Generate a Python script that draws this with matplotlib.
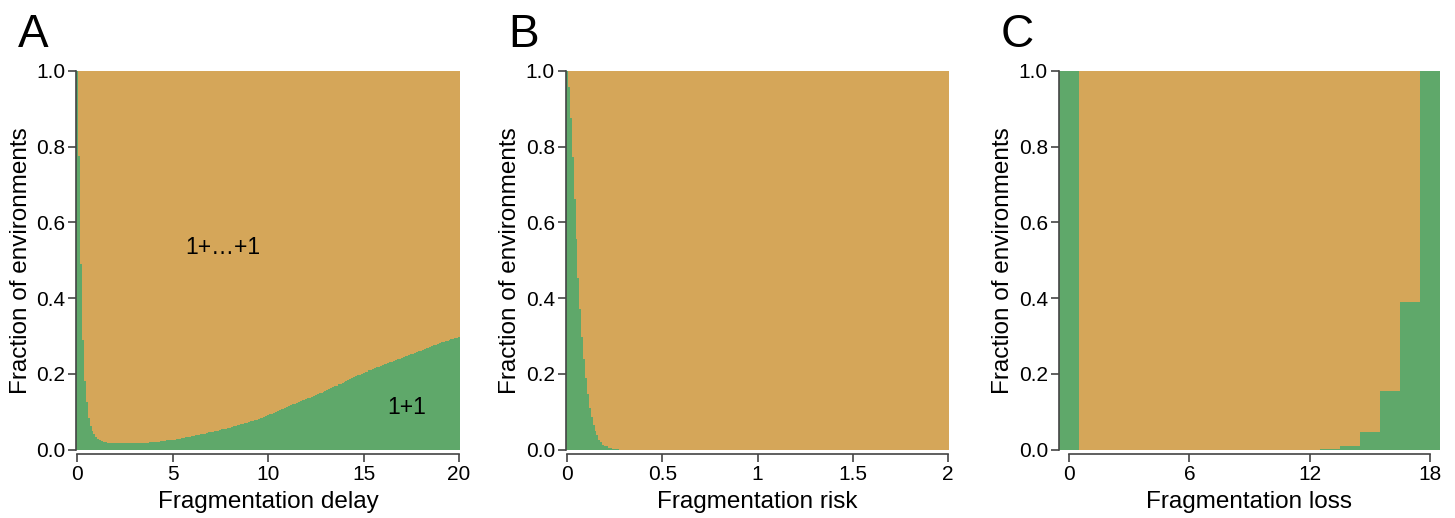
import numpy as np
import matplotlib
matplotlib.use("Agg")
import matplotlib.pyplot as plt

plt.rcParams['font.family'] = ['Liberation Sans', 'DejaVu Sans']

# ---------------- data ----------------
# Panel A: fragmentation delay 0..20 step 0.1, fraction of environments favouring 1+1
delay_x = [round(i * 0.1, 1) for i in range(201)]
delay_green = [
    1.0, 0.775, 0.489, 0.289, 0.181, 0.126, 0.084, 0.062, 0.050, 0.041,
    0.032, 0.028, 0.024, 0.022, 0.020, 0.019, 0.017, 0.017, 0.017, 0.017,
    0.017, 0.017, 0.017, 0.017, 0.017, 0.017, 0.017, 0.017, 0.017, 0.017,
    0.017, 0.017, 0.017, 0.017, 0.017, 0.017, 0.018, 0.018, 0.019, 0.019,
    0.020, 0.020, 0.021, 0.021, 0.022, 0.022, 0.023, 0.024, 0.024, 0.025,
    0.026, 0.026, 0.027, 0.028, 0.029, 0.030, 0.031, 0.032, 0.033, 0.034,
    0.035, 0.036, 0.037, 0.038, 0.039, 0.040, 0.041, 0.042, 0.043, 0.045,
    0.046, 0.047, 0.048, 0.049, 0.050, 0.052, 0.053, 0.054, 0.055, 0.057,
    0.058, 0.059, 0.061, 0.062, 0.064, 0.066, 0.067, 0.068, 0.070, 0.071,
    0.073, 0.074, 0.076, 0.077, 0.079, 0.080, 0.082, 0.084, 0.086, 0.088,
    0.091, 0.093, 0.095, 0.097, 0.099, 0.102, 0.104, 0.106, 0.108, 0.110,
    0.113, 0.115, 0.117, 0.119, 0.121, 0.124, 0.126, 0.128, 0.130, 0.131,
    0.133, 0.135, 0.137, 0.139, 0.142, 0.144, 0.146, 0.148, 0.150, 0.153,
    0.155, 0.157, 0.159, 0.162, 0.164, 0.167, 0.169, 0.172, 0.174, 0.177,
    0.179, 0.181, 0.184, 0.186, 0.189, 0.191, 0.193, 0.196, 0.198, 0.200,
    0.202, 0.204, 0.206, 0.209, 0.211, 0.213, 0.215, 0.217, 0.219, 0.221,
    0.223, 0.225, 0.227, 0.229, 0.230, 0.232, 0.234, 0.236, 0.238, 0.240,
    0.242, 0.244, 0.246, 0.248, 0.249, 0.251, 0.253, 0.255, 0.257, 0.259,
    0.261, 0.263, 0.265, 0.267, 0.269, 0.271, 0.273, 0.275, 0.277, 0.279,
    0.281, 0.283, 0.284, 0.286, 0.287, 0.289, 0.291, 0.292, 0.294, 0.295,
    0.297,
]

# Panel B: fragmentation risk 0..2 step 0.01
risk_x = [round(i * 0.01, 2) for i in range(201)]
risk_green_head = [
    1.0, 0.958, 0.875, 0.773, 0.663, 0.557, 0.453, 0.371, 0.298, 0.240,
    0.188, 0.146, 0.110, 0.086, 0.066, 0.050, 0.038, 0.026, 0.019, 0.013,
    0.010, 0.008, 0.005, 0.003, 0.002, 0.002, 0.001, 0.001,
]
risk_green = risk_green_head + [0.0] * (201 - len(risk_green_head))

# Panel C: fragmentation loss 0..18
loss_x = list(range(19))
loss_green = [1.0, 0, 0, 0, 0, 0, 0, 0, 0, 0, 0, 0, 0,
              0.002, 0.009, 0.047, 0.155, 0.39, 1.0]

GREEN = '#5FA86A'
ORANGE = '#D5A659'
SPINE = '#444444'

fig = plt.figure(figsize=(14.55, 5.18), dpi=100)

W, H = 1455, 518
def ax_rect(left_px, right_px, top_px=71, bottom_px=449.5):
    return [left_px / W, (H - bottom_px) / H, (right_px - left_px) / W, (bottom_px - top_px) / H]

panels = [
    dict(rect=ax_rect(76.3, 460.0), x=delay_x, g=delay_green, w=0.1,
         xlim=(-0.05, 20.05), ticks=[0, 5, 10, 15, 20], labels=['0', '5', '10', '15', '20'],
         xlabel='Fragmentation delay', letter='A'),
    dict(rect=ax_rect(566.0, 949.0), x=risk_x, g=risk_green, w=0.01,
         xlim=(-0.005, 2.005), ticks=[0, 0.5, 1, 1.5, 2], labels=['0', '0.5', '1', '1.5', '2'],
         xlabel='Fragmentation risk', letter='B'),
    dict(rect=ax_rect(1059.0, 1440.0), x=loss_x, g=loss_green, w=1.0,
         xlim=(-0.5, 18.5), ticks=[0, 6, 12, 18], labels=['0', '6', '12', '18'],
         xlabel='Fragmentation loss', letter='C'),
]

axes = []
for p in panels:
    ax = fig.add_axes(p['rect'])
    g = np.array(p['g'], dtype=float)
    ax.bar(p['x'], g, width=p['w'], color=GREEN, linewidth=0, align='center')
    ax.bar(p['x'], 1 - g, bottom=g, width=p['w'], color=ORANGE, linewidth=0, align='center')
    ax.set_xlim(*p['xlim'])
    ax.set_ylim(0, 1)
    ax.set_xticks(p['ticks'])
    ax.set_xticklabels(p['labels'])
    ax.set_yticks([0, 0.2, 0.4, 0.6, 0.8, 1.0])
    ax.set_yticklabels(['0.0', '0.2', '0.4', '0.6', '0.8', '1.0'])
    for s in ['top', 'right']:
        ax.spines[s].set_visible(False)
    ax.spines['bottom'].set_position(('outward', 3))
    ax.spines['bottom'].set_bounds(p['ticks'][0], p['ticks'][-1])
    ax.spines['left'].set_bounds(0, 1)
    for s in ['bottom', 'left']:
        ax.spines[s].set_color(SPINE)
        ax.spines[s].set_linewidth(1.2)
    ax.tick_params(axis='both', direction='out', length=6, width=1.2, color=SPINE,
                   labelsize=15, labelcolor='black', pad=2)
    ax.set_xlabel(p['xlabel'], fontsize=17.5, labelpad=5)
    ax.set_ylabel('Fraction of environments', fontsize=17.5, labelpad=3)
    ax.set_axisbelow(False)
    fig.text(p['rect'][0] - 58 / W, 0.975, p['letter'], fontsize=33,
             ha='left', va='top')
    axes.append(ax)

axes[0].text(7.6, 0.535, '1+\u2026+1', fontsize=16.5, ha='center', va='center')
axes[0].text(17.25, 0.112, '1+1', fontsize=16.5, ha='center', va='center')

fig.savefig('out.png', dpi=100)
